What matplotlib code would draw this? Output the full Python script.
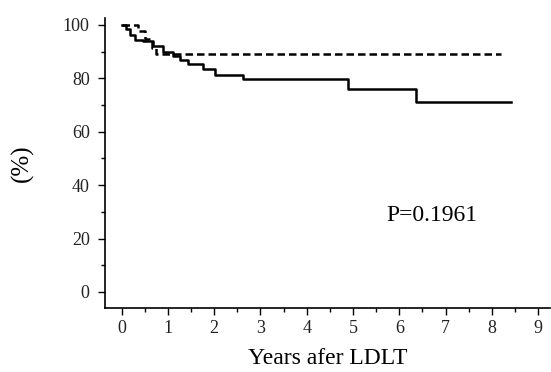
import matplotlib
matplotlib.use("Agg")
import matplotlib.pyplot as plt
from matplotlib.ticker import MultipleLocator

# survival steps (years, %)
solid_t = [0, 0.10, 0.18, 0.29, 0.46, 0.68, 0.90, 1.10, 1.26, 1.43, 1.76, 2.02, 2.62, 4.89, 6.36, 8.42]
solid_s = [100, 98.6, 96.2, 94.4, 93.8, 91.9, 90.0, 88.5, 87.0, 85.3, 83.3, 81.3, 79.6, 76.0, 71.2, 71.2]

dash_t = [0, 0.35, 0.50, 0.65, 0.75, 8.20]
dash_s = [100, 97.5, 94.5, 91.5, 89.0, 89.0]

xticks = list(range(0, 10))
yticks = [0, 20, 40, 60, 80, 100]
p_text = "P=0.1961"

plt.rcParams['font.family'] = ['Liberation Serif', 'DejaVu Serif']

fig = plt.figure(figsize=(5.51, 3.72), dpi=100)
ax = fig.add_axes([0.1906, 0.172, 0.807, 0.780])

ax.step(solid_t, solid_s, where='post', color='black', lw=1.8)
ax.step(dash_t, dash_s, where='post', color='black', lw=1.8, ls=(0, (3, 1.6)))

ax.set_xlim(-0.36, 9.25)
ax.set_ylim(-6, 102.6)
ax.set_xticks(xticks)
ax.set_yticks(yticks)
ax.xaxis.set_minor_locator(MultipleLocator(0.5))
ax.yaxis.set_minor_locator(MultipleLocator(10))
ax.tick_params(which='major', length=5, width=1, labelsize=13, direction='out',
               labelcolor='#222222')
ax.tick_params(axis='y', which='major', pad=6)
ax.tick_params(which='minor', length=3, width=1, direction='out')

for s in ['top', 'right']:
    ax.spines[s].set_visible(False)
for s in ['left', 'bottom']:
    ax.spines[s].set_linewidth(1.2)

ax.set_xlabel("Years afer LDLT", fontsize=17, labelpad=8)
ax.set_ylabel("(%)", fontsize=18, labelpad=21)
ax.text(6.7, 28.8, p_text, fontsize=17, ha='center', va='center')

fig.savefig("out.png", dpi=100)
